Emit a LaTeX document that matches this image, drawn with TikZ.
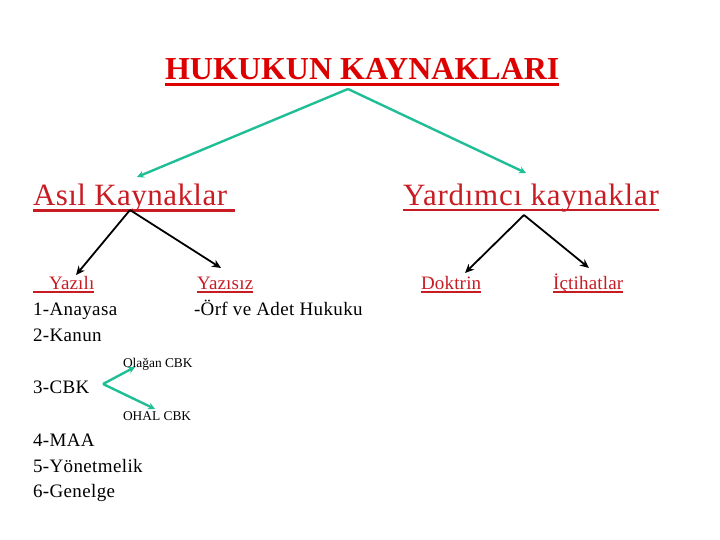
\documentclass[tikz,border=0pt]{standalone}
\usepackage{fontspec}
\setmainfont{Liberation Serif}
\usetikzlibrary{arrows.meta}
\definecolor{titlered}{RGB}{221,0,0}
\definecolor{subred}{RGB}{200,28,36}
\definecolor{teal1}{RGB}{32,190,150}
\begin{document}
\begin{tikzpicture}[x=1pt,y=-1pt,
  txt/.style={anchor=base west,inner sep=0pt,outer sep=0pt},
  big/.style={txt,font=\fontsize{31}{31}\selectfont\addfontfeature{LetterSpace=1.5},text=subred},
  mid/.style={txt,font=\fontsize{19}{19}\selectfont\addfontfeature{LetterSpace=2}},
  sub/.style={txt,font=\fontsize{19}{19}\selectfont\addfontfeature{LetterSpace=1},text=subred},
  small/.style={txt,font=\fontsize{13.4}{13.4}\selectfont},
  tealarr/.style={draw=teal1,line width=2.4pt,-{Stealth[length=7pt,width=7pt]}},
  blackarr/.style={draw=black,line width=1.8pt,-{Stealth[length=9pt,width=8pt]}},
  ul/.style={line width=#1},
]
\useasboundingbox (0,0) rectangle (720,540);
% title
\node[txt,font=\fontsize{32}{32}\selectfont\bfseries,text=titlered] (title) at (165,80) {HUKUKUN KAYNAKLARI};
\draw[titlered,ul=2.5pt] ([yshift=-4.5pt]title.base west) -- ([yshift=-4.5pt]title.base east);
% level 2
\node[big] (asil) at (33,206) {Asıl Kaynaklar\rule{8pt}{0pt}};
\draw[subred,ul=2.5pt] ([yshift=-4.5pt]asil.base west) -- ([yshift=-4.5pt]asil.base east);
\node[big,font=\fontsize{31}{31}\selectfont\addfontfeature{LetterSpace=2.4}] (yard) at (403,206) {Yardımcı kaynaklar};
\draw[subred,ul=2.5pt] ([yshift=-4pt]yard.base west) -- ([yshift=-4pt]yard.base east);
% level 3
\node[sub] (yazili) at (33,289) {\hspace{16pt}Yazılı};
\draw[subred,ul=1.5pt] ([yshift=-3pt]yazili.base west) -- ([yshift=-3pt]yazili.base east);
\node[sub] (yazisiz) at (197,289) {Yazısız};
\draw[subred,ul=1.5pt] ([yshift=-3pt]yazisiz.base west) -- ([yshift=-3pt]yazisiz.base east);
\node[sub] (doktrin) at (421,289) {Doktrin};
\draw[subred,ul=1.5pt] ([yshift=-3pt]doktrin.base west) -- ([yshift=-3pt]doktrin.base east);
\node[sub] (ictihat) at (553,289) {İçtihatlar};
\draw[subred,ul=1.5pt] ([yshift=-3pt]ictihat.base west) -- ([yshift=-3pt]ictihat.base east);
% lists
\node[mid] (anayasa) at (33,315) {1-Anayasa};
\node[mid] (kanun) at (33,341) {2-Kanun};
\node[mid] (orf) at (194,315) {-Örf ve Adet Hukuku};
\node[small] (olagan) at (123,367) {Olağan CBK};
\node[mid] (cbk) at (33,393) {3-CBK};
\node[small] (ohal) at (123,420) {OHAL CBK};
\node[mid] (maa) at (33,446) {4-MAA};
\node[mid] (yonet) at (33,472) {5-Yönetmelik};
\node[mid] (genelge) at (33,497) {6-Genelge};
% connector points
\coordinate (t0) at (348,89);
\coordinate (t1) at (137,177);
\coordinate (t2) at (526,173);
\coordinate (a0) at (130,210);
\coordinate (a1) at (76,275);
\coordinate (a2) at (221,268);
\coordinate (y0) at (524,215);
\coordinate (y1) at (465,273);
\coordinate (y2) at (589,268);
\coordinate (c0) at (103,384);
\coordinate (c1) at (135,367);
\coordinate (c2) at (155,409);
% connectors
\draw[tealarr] (t0) -- (t1);
\draw[tealarr] (t0) -- (t2);
\draw[blackarr] (a0) -- (a1);
\draw[blackarr] (a0) -- (a2);
\draw[blackarr] (y0) -- (y1);
\draw[blackarr] (y0) -- (y2);
\draw[tealarr] (c0) -- (c1);
\draw[tealarr] (c0) -- (c2);
\end{tikzpicture}
\end{document}
